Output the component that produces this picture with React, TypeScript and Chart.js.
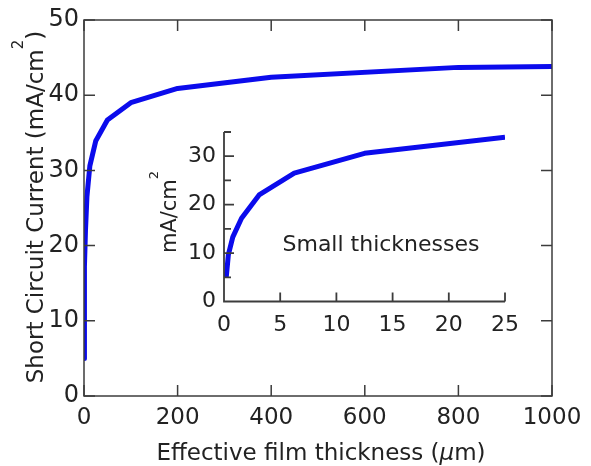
import { useEffect, useRef } from "react";
import { Chart, registerables } from "chart.js";

Chart.register(...registerables);

// ---- data ----
const thickness = [0.2, 0.39, 0.78, 1.56, 3.125, 6.25, 12.5, 25, 50, 100, 200, 400, 800, 1000];
const current = [5, 9.7, 13.3, 17.2, 22, 26.5, 30.6, 33.9, 36.7, 39, 40.9, 42.4, 43.7, 43.8];
const insetMaxThickness = 25;

const mainXTicks = [0, 200, 400, 600, 800, 1000];
const mainYTicks = [0, 10, 20, 30, 40, 50];
const insetXTicks = [0, 5, 10, 15, 20, 25];
const insetYTicks = [0, 10, 20, 30];
const insetYMinorTicks = [5, 15, 25, 35];

const xTitleParts = ["Effective film thickness (", "\u03bc", "m)"];
const yTitleParts = ["Short Circuit Current (mA/cm", "2", ")"];
const insetYTitleParts = ["mA/cm", "2"];
const insetNote = "Small thicknesses";

// ---- styles ----
const FONT = '"DejaVu Sans", Verdana, sans-serif';
const AXIS = "#3c3c3c";
const TEXT = "#222";
const LINE = "#0b0bec";

const mainDeco = {
  id: "mainDeco",
  afterDraw(chart: any) {
    const { ctx, chartArea: a, scales } = chart;
    const x = scales.x;
    const y = scales.y;
    ctx.save();
    ctx.strokeStyle = AXIS;
    ctx.lineWidth = 1.5;
    ctx.strokeRect(a.left, a.top, a.right - a.left, a.bottom - a.top);
    const tl = 11;
    ctx.beginPath();
    for (const v of mainXTicks) {
      const px = x.getPixelForValue(v);
      ctx.moveTo(px, a.bottom);
      ctx.lineTo(px, a.bottom - tl);
      ctx.moveTo(px, a.top);
      ctx.lineTo(px, a.top + tl);
    }
    for (const v of mainYTicks) {
      const py = y.getPixelForValue(v);
      ctx.moveTo(a.left, py);
      ctx.lineTo(a.left + tl, py);
      ctx.moveTo(a.right, py);
      ctx.lineTo(a.right - tl, py);
    }
    ctx.stroke();

    ctx.fillStyle = TEXT;
    // x title
    const fs = 23;
    ctx.textBaseline = "alphabetic";
    ctx.textAlign = "left";
    const nf = `${fs}px ${FONT}`;
    const itf = `italic ${fs}px ${FONT}`;
    ctx.font = nf;
    const w0 = ctx.measureText(xTitleParts[0]).width;
    const w2 = ctx.measureText(xTitleParts[2]).width;
    ctx.font = itf;
    const w1 = ctx.measureText(xTitleParts[1]).width;
    const cx = 321;
    const sx = cx - (w0 + w1 + w2) / 2;
    const by = 460;
    ctx.font = nf;
    ctx.fillText(xTitleParts[0], sx, by);
    ctx.font = itf;
    ctx.fillText(xTitleParts[1], sx + w0, by);
    ctx.font = nf;
    ctx.fillText(xTitleParts[2], sx + w0 + w1, by);

    // y title (rotated)
    const supf = `15px ${FONT}`;
    ctx.font = nf;
    const y0 = ctx.measureText(yTitleParts[0]).width;
    const y2 = ctx.measureText(yTitleParts[2]).width;
    ctx.font = supf;
    const y1 = ctx.measureText(yTitleParts[1]).width;
    const cy = 207;
    ctx.translate(43, cy);
    ctx.rotate(-Math.PI / 2);
    const st = -(y0 + y1 + y2) / 2;
    ctx.font = nf;
    ctx.fillText(yTitleParts[0], st, 0);
    ctx.font = supf;
    ctx.fillText(yTitleParts[1], st + y0, -20);
    ctx.font = nf;
    ctx.fillText(yTitleParts[2], st + y0 + y1, 0);
    ctx.restore();
  },
};

const insetDeco = {
  id: "insetDeco",
  afterDraw(chart: any) {
    const { ctx, chartArea: a, scales } = chart;
    const x = scales.x;
    const y = scales.y;
    ctx.save();
    ctx.strokeStyle = AXIS;
    ctx.lineWidth = 1.8;
    ctx.beginPath();
    ctx.moveTo(a.left, a.top);
    ctx.lineTo(a.left, a.bottom);
    ctx.lineTo(a.right, a.bottom);
    for (const v of insetXTicks) {
      const px = x.getPixelForValue(v);
      ctx.moveTo(px, a.bottom);
      ctx.lineTo(px, a.bottom - 9);
    }
    for (const v of insetYTicks) {
      const py = y.getPixelForValue(v);
      ctx.moveTo(a.left, py);
      ctx.lineTo(a.left + 10, py);
    }
    for (const v of insetYMinorTicks) {
      const py = y.getPixelForValue(v);
      ctx.moveTo(a.left, py);
      ctx.lineTo(a.left + 7, py);
    }
    ctx.stroke();

    ctx.fillStyle = TEXT;
    ctx.font = `22px ${FONT}`;
    ctx.textAlign = "center";
    ctx.textBaseline = "middle";
    ctx.fillText(insetNote, 381, 245);

    // inset y title
    const nf = `21px ${FONT}`;
    ctx.font = nf;
    ctx.textAlign = "left";
    ctx.textBaseline = "alphabetic";
    const supf = `13px ${FONT}`;
    const w0 = ctx.measureText(insetYTitleParts[0]).width;
    ctx.font = supf;
    const w1 = ctx.measureText(insetYTitleParts[1]).width;
    ctx.translate(176, 212);
    ctx.rotate(-Math.PI / 2);
    const st = -(w0 + w1) / 2;
    ctx.font = nf;
    ctx.fillText(insetYTitleParts[0], st, 0);
    ctx.font = supf;
    ctx.fillText(insetYTitleParts[1], st + w0, -18);
    ctx.restore();
  },
};

function tickFont(size: number) {
  return { family: FONT, size };
}

export default function App() {
  const mainRef = useRef<HTMLCanvasElement>(null);
  const insetRef = useRef<HTMLCanvasElement>(null);

  useEffect(() => {
    const mainPts = thickness.map((t, i) => ({ x: t, y: current[i] }));
    const insetPts = thickness
      .map((t, i) => ({ x: t, y: current[i] }))
      .filter((p) => p.x <= insetMaxThickness);

    const main = new Chart(mainRef.current!, {
      type: "line",
      data: {
        datasets: [
          {
            data: mainPts,
            borderColor: LINE,
            borderWidth: 5,
            pointRadius: 0,
            tension: 0,
            fill: false,
            borderJoinStyle: "round",
          },
        ],
      },
      options: {
        responsive: false,
        animation: false,
        devicePixelRatio: 1,
        layout: { padding: { top: 20, right: 39, left: 0, bottom: 0 } },
        plugins: { legend: { display: false }, tooltip: { enabled: false } },
        scales: {
          x: {
            type: "linear",
            min: 0,
            max: 1000,
            grid: { display: false, drawTicks: false },
            border: { display: false },
            afterBuildTicks: (s: any) => {
              s.ticks = mainXTicks.map((v) => ({ value: v }));
            },
            afterFit: (s: any) => {
              s.height = 70;
            },
            ticks: {
              font: tickFont(23),
              color: TEXT,
              padding: 8,
              maxRotation: 0,
              autoSkip: false,
              callback: (v: any) => String(v),
            },
          },
          y: {
            type: "linear",
            min: 0,
            max: 50,
            grid: { display: false, drawTicks: false },
            border: { display: false },
            afterBuildTicks: (s: any) => {
              s.ticks = mainYTicks.map((v) => ({ value: v }));
            },
            afterFit: (s: any) => {
              s.width = 84;
            },
            ticks: {
              font: tickFont(24),
              color: TEXT,
              padding: 5,
              callback: (v: any) => String(v),
            },
          },
        },
      } as any,
      plugins: [mainDeco],
    });

    const inset = new Chart(insetRef.current!, {
      type: "line",
      data: {
        datasets: [
          {
            data: insetPts,
            borderColor: LINE,
            borderWidth: 5,
            pointRadius: 0,
            tension: 0,
            fill: false,
            borderJoinStyle: "round",
          },
        ],
      },
      options: {
        responsive: false,
        animation: false,
        devicePixelRatio: 1,
        layout: { padding: { top: 132, right: 86, left: 164, bottom: 124.5 } },
        plugins: { legend: { display: false }, tooltip: { enabled: false } },
        scales: {
          x: {
            type: "linear",
            min: 0,
            max: 25,
            grid: { display: false, drawTicks: false },
            border: { display: false },
            afterBuildTicks: (s: any) => {
              s.ticks = insetXTicks.map((v) => ({ value: v }));
            },
            afterFit: (s: any) => {
              s.height = 40;
            },
            ticks: {
              font: tickFont(22),
              color: TEXT,
              padding: 11,
              maxRotation: 0,
              autoSkip: false,
              callback: (v: any) => String(v),
            },
          },
          y: {
            type: "linear",
            min: 0,
            max: 35,
            grid: { display: false, drawTicks: false },
            border: { display: false },
            afterBuildTicks: (s: any) => {
              s.ticks = insetYTicks.map((v) => ({ value: v }));
            },
            afterFit: (s: any) => {
              s.width = 60;
            },
            ticks: {
              font: tickFont(22),
              color: TEXT,
              padding: 8,
              callback: (v: any) => String(v),
            },
          },
        },
      } as any,
      plugins: [insetDeco],
    });

    return () => {
      main.destroy();
      inset.destroy();
    };
  }, []);

  return (
    <div style={{ position: "absolute", left: 0, top: 0, width: 591, height: 466, background: "#fff" }}>
      <canvas ref={mainRef} width={591} height={466} style={{ position: "absolute", left: 0, top: 0 }} />
      <canvas ref={insetRef} width={591} height={466} style={{ position: "absolute", left: 0, top: 0 }} />
    </div>
  );
}
